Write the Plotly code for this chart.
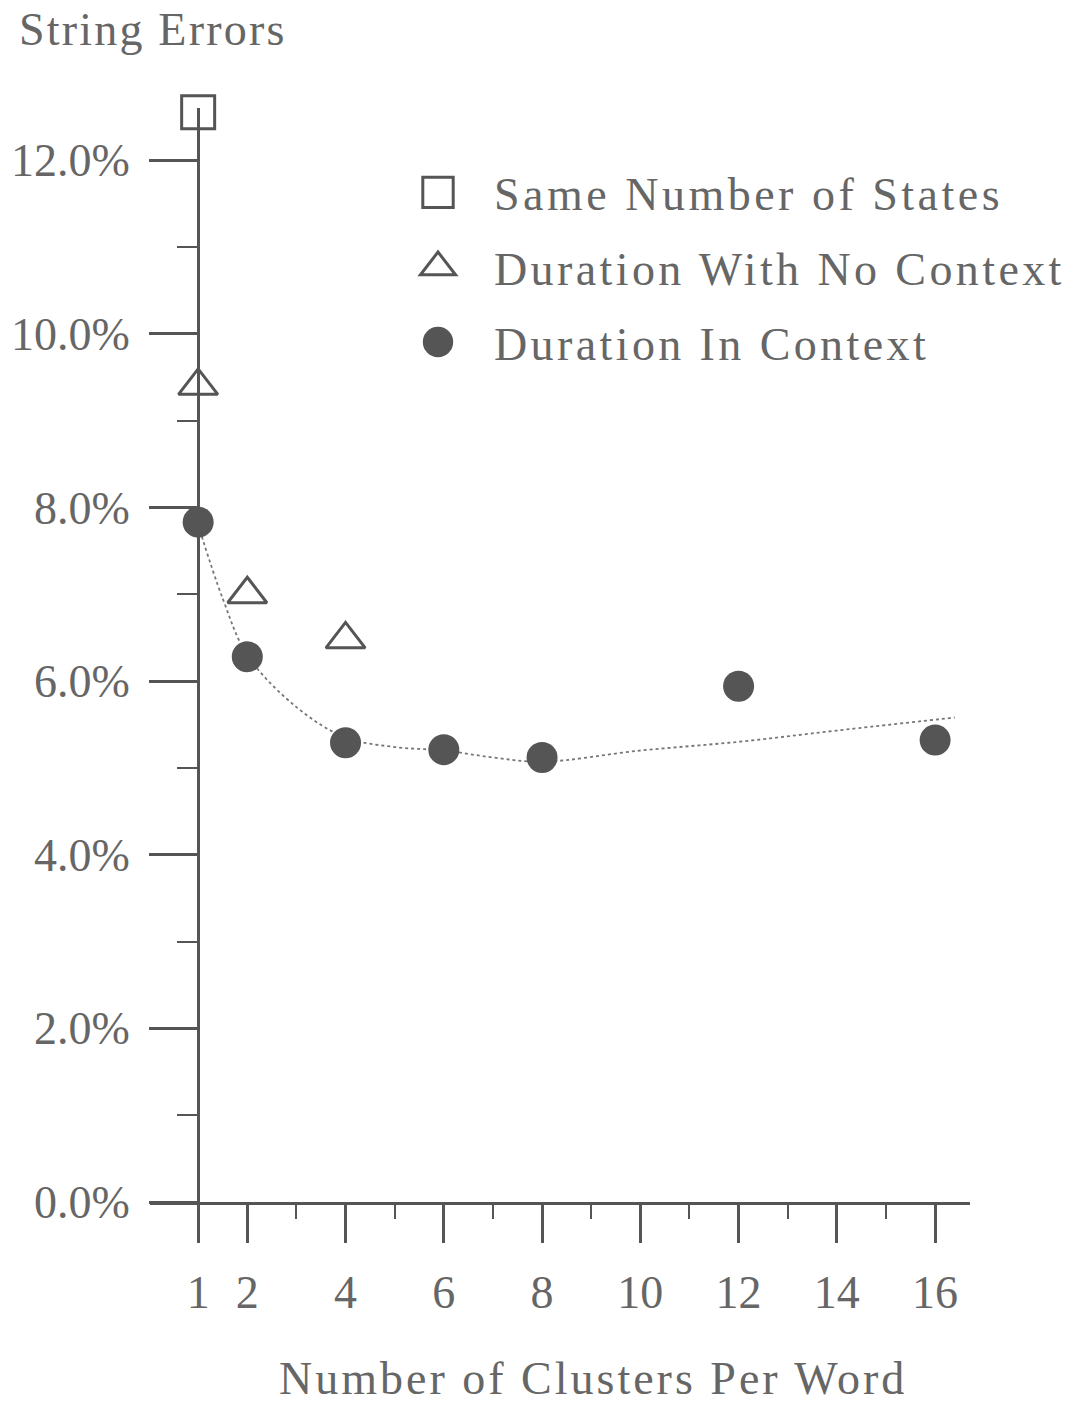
import plotly.graph_objects as go

# ---- data ----
same_states_x = [1]
same_states_y = [12.55]

no_context_x = [1, 2, 4]
no_context_y = [9.4, 7.0, 6.48]

in_context_x = [1, 2, 4, 6, 8, 12, 16]
in_context_y = [7.83, 6.28, 5.29, 5.21, 5.12, 5.94, 5.32]

fit_x = [1, 1.5, 2, 3, 4, 5, 6, 7, 8, 10, 12, 14, 16.4]
fit_y = [7.8, 6.95, 6.3, 5.7, 5.35, 5.24, 5.2, 5.12, 5.07, 5.2, 5.3, 5.43, 5.58]

x_tickvals = [1, 2, 4, 6, 8, 10, 12, 14, 16]
x_ticktext = ["1", "2", "4", "6", "8", "10", "12", "14", "16"]
x_minor = [3, 5, 7, 9, 11, 13, 15]

y_tickvals = [0, 2, 4, 6, 8, 10, 12]
y_ticktext = ["0.0%", "2.0%", "4.0%", "6.0%", "8.0%", "10.0%", "12.0%"]
y_minor = [1, 3, 5, 7, 9, 11]

# ---- style ----
FONT = "Liberation Serif"
TXT = "#666666"
LN = "#555555"
FS = 46


def spaced(s, px=3):
    return '<span style="letter-spacing:%gpx">%s</span>' % (px, s)


xr = [0.02, 16.71]
yr = [0, 12.6]

fig = go.Figure()

fig.add_trace(go.Scatter(x=fit_x, y=fit_y, mode="lines", showlegend=False,
                         line=dict(color="#777777", width=1.8, dash="dot", shape="spline"),
                         hoverinfo="skip"))
fig.add_trace(go.Scatter(x=same_states_x, y=same_states_y, mode="markers",
                         name=spaced("Same Number of States", 3.5), legendgroup="a",
                         marker=dict(symbol="square-open", size=33, color=LN, line=dict(width=3, color=LN)),
                         cliponaxis=False))
fig.add_trace(go.Scatter(x=no_context_x, y=no_context_y, mode="markers",
                         name=spaced("Duration With No Context", 3.4), legendgroup="b",
                         marker=dict(symbol="triangle-up-open", size=34, color=LN, line=dict(width=3, color=LN)),
                         cliponaxis=False))
fig.add_trace(go.Scatter(x=in_context_x, y=in_context_y, mode="markers",
                         name=spaced("Duration In Context", 3.4), legendgroup="c",
                         marker=dict(symbol="circle", size=31, color=LN, line=dict(width=0)),
                         cliponaxis=False))

ypos = (1 - xr[0]) / (xr[1] - xr[0])

fig.update_layout(
    width=1074, height=1407,
    margin=dict(l=150, r=104, t=108, b=205, autoexpand=False),
    paper_bgcolor="white", plot_bgcolor="white",
    font=dict(family=FONT, size=FS, color=TXT),
    showlegend=True,
    legend=dict(x=(382 - 150) / 820, y=(1202 - 156) / 1094, xanchor="left", yanchor="top",
                bgcolor="rgba(0,0,0,0)", borderwidth=0, itemwidth=102,
                traceorder="grouped", tracegroupgap=12,
                font=dict(family=FONT, size=FS, color=TXT)),
    xaxis=dict(range=xr, showgrid=False, zeroline=False, showline=True,
               linecolor=LN, linewidth=3,
               tickmode="array", tickvals=x_tickvals, ticktext=x_ticktext,
               ticks="outside", ticklen=38, tickwidth=3, tickcolor=LN,
               ticklabelstandoff=10,
               minor=dict(tickmode="array", tickvals=x_minor, ticks="outside",
                          ticklen=14, tickwidth=2, tickcolor=LN, showgrid=False),
               tickfont=dict(family=FONT, size=FS, color=TXT)),
    yaxis=dict(range=yr, showgrid=False, zeroline=False, showline=True,
               linecolor=LN, linewidth=3, anchor="free", position=ypos,
               tickmode="array", tickvals=y_tickvals, ticktext=y_ticktext,
               ticks="outside", ticklen=48, tickwidth=3, tickcolor=LN,
               ticklabelstandoff=10,
               minor=dict(tickmode="array", tickvals=y_minor, ticks="outside",
                          ticklen=20, tickwidth=2, tickcolor=LN, showgrid=False),
               tickfont=dict(family=FONT, size=FS, color=TXT)),
    annotations=[
        dict(text=spaced("String Errors", 2.2), xref="paper", yref="paper",
             x=(17 - 150) / 820, y=(1202 - 2) / 1094, xanchor="left", yanchor="top",
             showarrow=False, font=dict(family=FONT, size=FS, color=TXT)),
        dict(text=spaced("Number of Clusters Per Word", 3), xref="paper", yref="paper",
             x=(593 - 150) / 820, y=-(1378 - 1202) / 1094, xanchor="center", yanchor="middle",
             showarrow=False, font=dict(family=FONT, size=FS, color=TXT)),
    ],
)

post = """
document.body.style.margin = '0';
var gd = document.getElementById('{plot_id}');
gd.querySelectorAll('.legend .legendpoints path.scatterpts').forEach(function(p) {
    var t = p.getAttribute('transform') || '';
    p.setAttribute('transform', t + ' scale(1.9)');
    p.style.vectorEffect = 'non-scaling-stroke';
    p.style.strokeWidth = '3px';
});
"""

fig.write_html("out.html", post_script=post, config={"displayModeBar": False})
